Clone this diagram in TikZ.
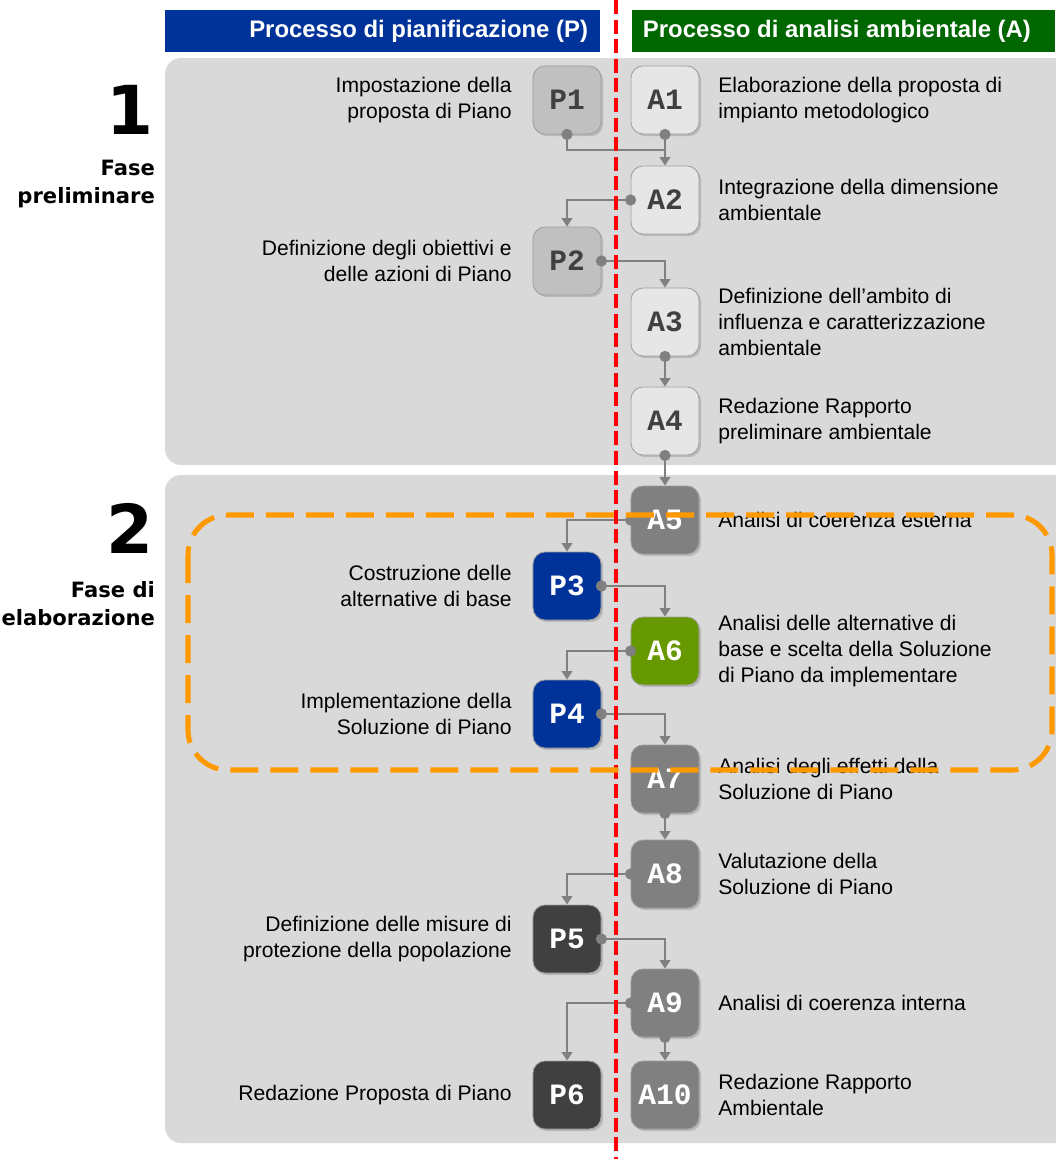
\documentclass[tikz,border=0pt]{standalone}
\usepackage{fontspec}
\setmainfont{Liberation Sans}
\newfontfamily\monofam{Liberation Mono}
\newfontfamily\fasefam{DejaVu Sans}
\usetikzlibrary{arrows.meta}
\usetikzlibrary{positioning}
\usetikzlibrary{shadows}
\usetikzlibrary{calc}
\definecolor{pblue}{HTML}{003399}
\definecolor{agreen}{HTML}{006600}
\definecolor{lime}{HTML}{669900}
\definecolor{panelgray}{HTML}{D9D9D9}
\definecolor{conngray}{HTML}{808080}
\definecolor{midgray}{HTML}{808080}
\definecolor{darkbox}{HTML}{404040}
\definecolor{lightbox}{HTML}{E6E6E6}
\definecolor{pbox}{HTML}{C0C0C0}
\definecolor{orng}{HTML}{FF9900}

\begin{document}
\begin{tikzpicture}[x=0.025cm, y=-0.025cm,
    B/.style={draw=gray!75, line width=0.6pt, fill=#1, rounded corners=0.3cm,
      minimum width=1.7cm, minimum height=1.7cm, inner sep=0pt, text=white,
      font=\monofam\bfseries\fontsize{21}{21}\selectfont,
      drop shadow={opacity=0.35, shadow xshift=1.5pt, shadow yshift=-1.5pt}},
    lt/.style={text=darkbox},
    plab/.style={align=right, font=\fontsize{15}{18.5}\selectfont},
    alab/.style={align=left, font=\fontsize{15}{18.5}\selectfont},
    C/.style={draw=conngray, line width=1.4pt, -{Triangle[width=7.5pt, length=6pt]}},
    Cx/.style={draw=conngray, line width=1.4pt},
    D/.style={fill=conngray},
    fase/.style={align=right, inner sep=2pt, font=\fasefam\bfseries\fontsize{15}{20}\selectfont}]
    \useasboundingbox (0,0) rectangle (1055,1159);

    % headers
    \fill[pblue] (165,10) rectangle (600,52);
    \fill[agreen] (632,10) rectangle (1055,52);
    \node[anchor=east, text=white, font=\bfseries\fontsize{17}{17}\selectfont] (hP) at (593,31) {Processo di pianificazione (P)};
    \node[anchor=west, text=white, font=\bfseries\fontsize{17}{17}\selectfont] (hA) at (638,31) {Processo di analisi ambientale (A)};

    % phase panels
    \fill[panelgray, rounded corners=0.4cm] (165,58) rectangle (1080,465);
    \fill[panelgray, rounded corners=0.4cm] (165,475) rectangle (1080,1143);

    % phase titles
    \node[anchor=east, font=\fasefam\bfseries\fontsize{48}{48}\selectfont] (n1) at (158,110) {1};
    \node[fase, anchor=east] (f1) at (158,184) {Fase\\preliminare};
    \node[anchor=east, font=\fasefam\bfseries\fontsize{48}{48}\selectfont] (n2) at (158,528) {2};
    \node[fase, anchor=east] (f2) at (158,604) {Fase di\\elaborazione};

    % boxes
    \node[B=pbox, lt] (P1) at (567,100) {P1};
    \node[B=lightbox, lt] (A1) at (665,100) {A1};
    \node[B=lightbox, lt] (A2) at (665,200) {A2};
    \node[B=pbox, lt] (P2) at (567,261) {P2};
    \node[B=lightbox, lt] (A3) at (665,322) {A3};
    \node[B=lightbox, lt] (A4) at (665,421) {A4};
    \node[B=midgray] (A5) at (665,520) {A5};
    \node[B=pblue] (P3) at (567,586) {P3};
    \node[B=lime] (A6) at (665,651) {A6};
    \node[B=pblue] (P4) at (567,714) {P4};
    \node[B=midgray] (A7) at (665,779) {A7};
    \node[B=midgray] (A8) at (665,874) {A8};
    \node[B=darkbox] (P5) at (567,939) {P5};
    \node[B=midgray] (A9) at (665,1003) {A9};
    \node[B=darkbox] (P6) at (567,1095) {P6};
    \node[B=midgray] (A10) at (665,1095) {A10};

    % labels
    \node[plab, left=0.4cm of P1] (lP1) {Impostazione della\\proposta di Piano};
    \node[alab, right=0.35cm of A1] (lA1) {Elaborazione della proposta di\\impianto metodologico};
    \node[alab, right=0.35cm of A2] (lA2) {Integrazione della dimensione\\ambientale};
    \node[plab, left=0.4cm of P2] (lP2) {Definizione degli obiettivi e\\delle azioni di Piano};
    \node[alab, right=0.35cm of A3] (lA3) {Definizione dell’ambito di\\influenza e caratterizzazione\\ambientale};
    \node[alab, right=0.35cm of A4] (lA4) {Redazione Rapporto\\preliminare ambientale};
    \node[alab, right=0.35cm of A5] (lA5) {Analisi di coerenza esterna};
    \node[plab, left=0.4cm of P3] (lP3) {Costruzione delle\\alternative di base};
    \node[alab, right=0.35cm of A6] (lA6) {Analisi delle alternative di\\base e scelta della Soluzione\\di Piano da implementare};
    \node[plab, left=0.4cm of P4] (lP4) {Implementazione della\\Soluzione di Piano};
    \node[alab, right=0.35cm of A7] (lA7) {Analisi degli effetti della\\Soluzione di Piano};
    \node[alab, right=0.35cm of A8] (lA8) {Valutazione della\\Soluzione di Piano};
    \node[plab, left=0.4cm of P5] (lP5) {Definizione delle misure di\\protezione della popolazione};
    \node[alab, right=0.35cm of A9] (lA9) {Analisi di coerenza interna};
    \node[plab, left=0.4cm of P6] (lP6) {Redazione Proposta di Piano};
    \node[alab, right=0.35cm of A10] (lA10) {Redazione Rapporto\\Ambientale};

    % connectors
    \coordinate (j1) at ($(A1.south)!0.5!(A2.north)$);
    \draw[Cx] (P1.south) |- (j1);
    \draw[C] (A1.south) -- (A2.north);
    \draw[C] (A2.west) -| (P2.north);
    \draw[C] (P2.east) -| (A3.north);
    \draw[C] (A3.south) -- (A4.north);
    \draw[C] (A4.south) -- (A5.north);
    \draw[C] (A5.west) -| (P3.north);
    \draw[C] (P3.east) -| (A6.north);
    \draw[C] (A6.west) -| (P4.north);
    \draw[C] (P4.east) -| (A7.north);
    \draw[C] (A7.south) -- (A8.north);
    \draw[C] (A8.west) -| (P5.north);
    \draw[C] (P5.east) -| (A9.north);
    \draw[C] (A9.west) -| (P6.north);
    \draw[C] (A9.south) -- (A10.north);
    \foreach \d in {P1.south,A1.south,A2.west,P2.east,A3.south,A4.south,A5.west,P3.east,A6.west,P4.east,A7.south,A8.west,P5.east,A9.west,A9.south}
      \fill[D] (\d) circle (4pt);

    % divider and highlight
    \draw[red, line width=2.8pt, dash pattern=on 0.35cm off 0.14cm] (616,0) -- (616,1159);
    \draw[orng, line width=3.6pt, rounded corners=1cm, dash pattern=on 0.7cm off 0.3cm] (188,515) rectangle (1052,770);
\end{tikzpicture}
\end{document}
